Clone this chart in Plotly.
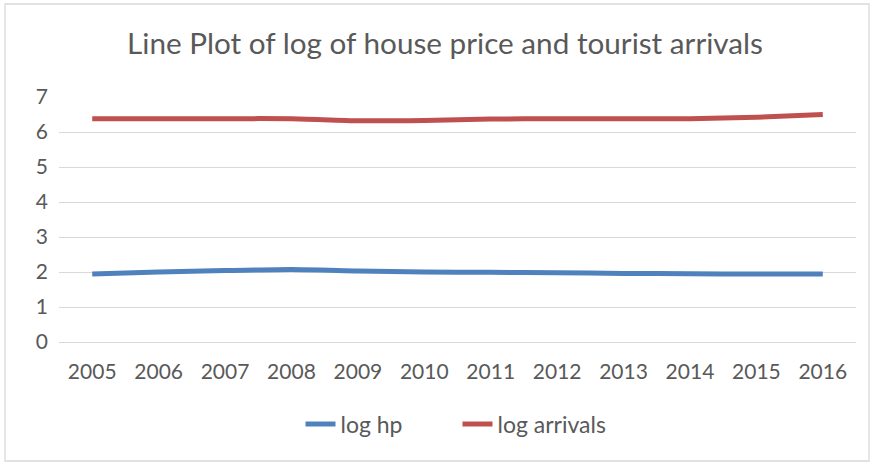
import plotly.graph_objects as go

years = ["2005", "2006", "2007", "2008", "2009", "2010", "2011", "2012", "2013", "2014", "2015", "2016"]
log_hp = [1.94, 2.00, 2.04, 2.07, 2.03, 2.00, 1.99, 1.98, 1.96, 1.95, 1.94, 1.94]
log_arrivals = [6.38, 6.38, 6.38, 6.38, 6.32, 6.33, 6.37, 6.38, 6.38, 6.38, 6.42, 6.50]
y_ticks = [0, 1, 2, 3, 4, 5, 6, 7]

FONT = "Lato"
fig = go.Figure()
fig.add_trace(go.Scatter(x=years, y=log_hp, name="log hp", mode="lines",
                         line=dict(color="#4F81BD", width=5, shape="spline", smoothing=0.6)))
fig.add_trace(go.Scatter(x=years, y=log_arrivals, name="log arrivals", mode="lines",
                         line=dict(color="#C0504D", width=5, shape="spline", smoothing=0.6)))

fig.update_layout(
    width=875, height=464,
    margin=dict(l=59, r=19, t=97, b=122, autoexpand=False),
    paper_bgcolor="white", plot_bgcolor="white",
    font=dict(family=FONT, color="#595959", size=21),
    title=dict(text="Line Plot of log of house price and tourist arrivals",
               x=445 / 875, xref="container", xanchor="center", y=0.905, yref="container",
               yanchor="middle", font=dict(family=FONT, size=29.7, color="#595959")),
    xaxis=dict(type="category", range=[-0.5, 11.5], showgrid=False, showline=False, ticks="",
               tickfont=dict(size=21), ticklabelstandoff=15, automargin=False),
    yaxis=dict(range=[0, 7], tickvals=y_ticks, showgrid=True, gridcolor="#D9D9D9",
               gridwidth=1.3, zeroline=True, zerolinecolor="#D9D9D9", zerolinewidth=1.3,
               showline=False, ticks="", tickfont=dict(size=21), ticklabelstandoff=10,
               automargin=False),
    legend=dict(orientation="h", x=0.5, xanchor="center", y=-0.335, yanchor="middle",
                font=dict(size=23), bgcolor="rgba(0,0,0,0)",
                entrywidth=112, entrywidthmode="pixels"),
    showlegend=True,
)
fig.add_shape(type="rect", xref="paper", yref="paper",
              x0=(5 - 59) / 797, x1=(869 - 59) / 797,
              y0=(342 - 461) / 245, y1=(342 - 4) / 245,
              line=dict(color="#D9D9D9", width=1.3), layer="below")
fig.write_html("out.html", post_script="document.body.style.margin='0';",
               config={"displayModeBar": False})
